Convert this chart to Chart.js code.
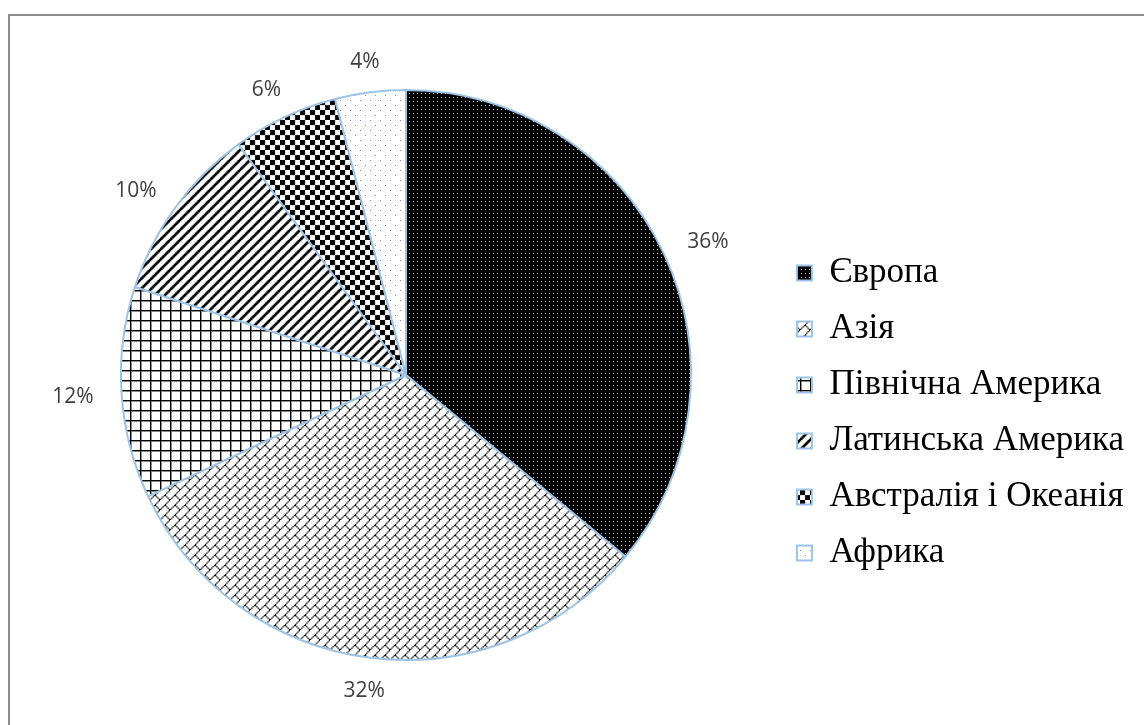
<!DOCTYPE html>
<html>
<head>
<meta charset="utf-8">
<script src="https://cdn.jsdelivr.net/npm/chart.js@4.4.1/dist/chart.umd.min.js"></script>
<style>
  html, body { margin: 0; padding: 0; background: #fff; }
  #wrap { position: relative; width: 1144px; height: 725px; overflow: hidden; }
  #frame { position: absolute; left: 8px; top: 14px; width: 1300px; height: 900px;
           border-left: 2px solid #8c8c8c; border-top: 2px solid #8c8c8c; pointer-events: none; }
</style>
</head>
<body>
<div id="wrap">
  <canvas id="chart" width="1144" height="725"></canvas>
  <div id="frame"></div>
</div>
<script>
// data
const regions = ['Європа', 'Азія', 'Північна Америка', 'Латинська Америка', 'Австралія і Океанія', 'Африка'];
const shares = [36, 32, 12, 10, 6, 4];
const shareLabels = shares.map(v => v + '%');

const canvas = document.getElementById('chart');
const mainCtx = canvas.getContext('2d');

// 8x8 bitmaps like the office fill patterns, 1 = foreground pixel
const brickBits = ['00000001', '00000010', '00000100', '00001000', '00011000', '00100100', '01000010', '10000001'];
const stripeBits = ['10000011', '00000111', '00001110', '00011100', '00111000', '01110000', '11100000', '11000001'];
const checkerBits = ['11110000', '11110000', '11110000', '11110000', '00001111', '00001111', '00001111', '00001111'];

function bitmapPattern(bits, fg, bg, size) {
    const src = document.createElement('canvas');
    src.width = src.height = bits.length;
    const s = src.getContext('2d');
    s.fillStyle = bg;
    s.fillRect(0, 0, src.width, src.height);
    s.fillStyle = fg;
    bits.forEach((row, y) => {
        for (let x = 0; x < row.length; x++) {
            if (row[x] === '1') s.fillRect(x, y, 1, 1);
        }
    });
    const tile = document.createElement('canvas');
    tile.width = tile.height = size;
    const t = tile.getContext('2d');
    t.imageSmoothingEnabled = true;
    t.drawImage(src, 0, 0, size, size);
    return mainCtx.createPattern(tile, 'repeat');
}

function dotPattern(size, dots, fg, bg) {
    const tile = document.createElement('canvas');
    tile.width = tile.height = size;
    const t = tile.getContext('2d');
    t.fillStyle = bg;
    t.fillRect(0, 0, size, size);
    t.fillStyle = fg;
    dots.forEach(d => t.fillRect(d[0], d[1], 1, 1));
    return mainCtx.createPattern(tile, 'repeat');
}

function gridPattern(size) {
    const tile = document.createElement('canvas');
    tile.width = tile.height = size;
    const t = tile.getContext('2d');
    t.fillStyle = '#fff';
    t.fillRect(0, 0, size, size);
    t.fillStyle = '#8a8a8a';
    t.fillRect(0, 1, size, 1);
    t.fillRect(1, 0, 1, size);
    t.fillStyle = '#000';
    t.fillRect(0, 0, size, 1);
    t.fillRect(0, 0, 1, size);
    return mainCtx.createPattern(tile, 'repeat');
}

const fills = [
    dotPattern(4, [[1, 1]], '#c4c4c4', '#000'),              // Європа
    bitmapPattern(brickBits, '#000', '#fff', 10),            // Азія
    gridPattern(10),                                         // Північна Америка
    bitmapPattern(stripeBits, '#000', '#fff', 10),           // Латинська Америка
    bitmapPattern(checkerBits, '#000', '#fff', 10),          // Австралія і Океанія
    dotPattern(10, [[0, 0], [5, 5]], '#8a8ab8', '#fff')      // Африка
];

// percent labels placed just outside each slice
const outsideLabels = {
    id: 'outsideLabels',
    afterDatasetsDraw(chart) {
        const ctx = chart.ctx;
        const arcs = chart.getDatasetMeta(0).data;
        ctx.save();
        ctx.font = '21px "Open Sans", sans-serif';
        ctx.fillStyle = '#404040';
        ctx.textAlign = 'center';
        ctx.textBaseline = 'middle';
        arcs.forEach((arc, i) => {
            const p = arc.getProps(['x', 'y', 'startAngle', 'endAngle', 'outerRadius'], true);
            const mid = (p.startAngle + p.endAngle) / 2;
            const text = shareLabels[i];
            const w = ctx.measureText(text).width;
            const h = 8;
            const r = p.outerRadius + 28;
            const cx = p.x + Math.cos(mid) * r + Math.cos(mid) * w / 2;
            const cy = p.y + Math.sin(mid) * r + Math.sin(mid) * h / 2 + 2;
            ctx.fillText(text, cx, cy);
        });
        ctx.restore();
    }
};

new Chart(mainCtx, {
    type: 'pie',
    data: {
        labels: regions,
        datasets: [{
            data: shares,
            backgroundColor: fills,
            borderColor: '#9dc3e6',
            borderWidth: 2
        }]
    },
    options: {
        responsive: false,
        animation: false,
        layout: { padding: { top: 89, bottom: 64, left: 36, right: 10 } },
        plugins: {
            tooltip: { enabled: false },
            legend: {
                position: 'right',
                align: 'center',
                title: { display: true, text: '', font: { size: 10 }, padding: { top: 64, bottom: 0 } },
                labels: {
                    boxWidth: 15,
                    boxHeight: 15,
                    padding: 21,
                    color: '#000',
                    font: { family: '"Liberation Serif", serif', size: 35 }
                }
            }
        }
    },
    plugins: [outsideLabels]
});
</script>
</body>
</html>
